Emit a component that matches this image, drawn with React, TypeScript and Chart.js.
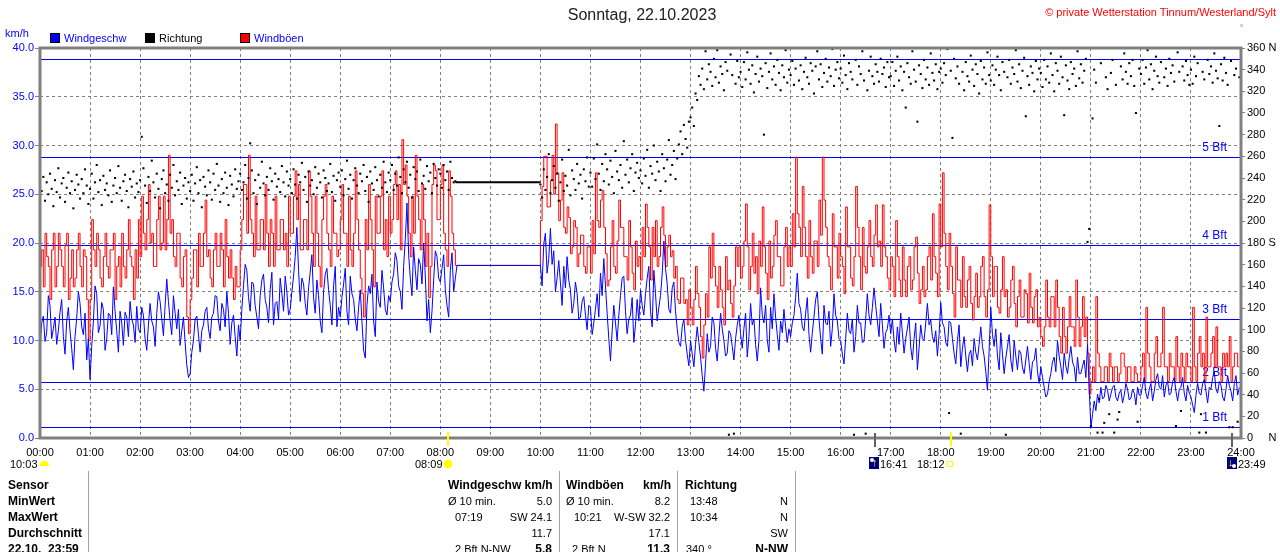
import React, { useEffect, useRef } from "react";
import { Chart, registerables } from "chart.js";

Chart.register(...registerables);

const FONT = "'Liberation Sans', Arial, sans-serif";
const _ = null;

// ---------- data ----------
const SPEED_STEP_MIN = 2; // minutes between wind speed / gust samples
const DIR_STEP_MIN = 2; // minutes between direction samples

const timeLabels = [
  "00:00", "01:00", "02:00", "03:00", "04:00", "05:00", "06:00", "07:00", "08:00",
  "09:00", "10:00", "11:00", "12:00", "13:00", "14:00", "15:00", "16:00", "17:00",
  "18:00", "19:00", "20:00", "21:00", "22:00", "23:00", "24:00",
];

// Windgeschw (km/h), one row per hour (30 samples)
const windSpeed: (number | null)[] = [
  9.0, 11.8, 12.5, 9.9, 10.8, 14.6, 13.6, 10.2, 11.2, 12.4, 9.6, 11.0, 12.9, 14.2, 10.4, 8.6, 12.0, 13.4, 11.0, 9.2, 7.0, 10.4, 12.3, 15.0, 13.8, 11.4, 10.6, 12.8, 8.0, 10.2,
  6.0, 9.4, 12.0, 15.6, 14.8, 10.8, 11.5, 13.9, 13.2, 9.0, 10.2, 12.8, 12.6, 10.6, 15.5, 13.0, 11.0, 8.8, 13.0, 11.8, 9.5, 12.9, 12.4, 10.4, 14.0, 12.2, 11.6, 9.8, 13.5, 11.2,
  10.8, 13.4, 12.6, 10.2, 9.0, 11.6, 13.8, 12.0, 11.4, 9.4, 12.8, 15.0, 14.0, 12.2, 10.5, 13.6, 16.3, 14.0, 12.0, 10.6, 14.6, 12.8, 11.2, 13.2, 9.5, 11.0, 12.4, 9.8, 7.5, 6.2,
  6.6, 8.8, 10.0, 12.2, 12.5, 10.6, 8.8, 11.0, 11.6, 13.0, 13.4, 11.2, 10.2, 12.4, 12.8, 14.6, 14.5, 12.0, 11.0, 13.8, 13.2, 11.4, 15.0, 12.8, 9.6, 11.8, 12.6, 10.4, 8.4, 11.6,
  10.0, 13.2, 15.6, 17.8, 17.2, 14.4, 13.0, 16.0, 15.8, 13.6, 12.4, 11.2, 14.6, 16.2, 16.8, 14.2, 13.4, 11.8, 15.2, 17.0, 11.6, 13.8, 14.0, 12.2, 16.4, 14.8, 13.0, 16.6, 15.0, 12.6,
  13.2, 15.0, 16.6, 18.6, 21.6, 17.2, 14.0, 16.4, 15.8, 13.8, 12.6, 15.4, 17.0, 18.8, 14.4, 12.8, 16.2, 14.6, 12.0, 10.8, 15.0, 16.8, 17.4, 15.2, 13.6, 11.6, 15.6, 17.6, 11.4, 13.4,
  12.4, 14.4, 15.8, 17.4, 13.0, 11.6, 16.6, 14.8, 14.2, 12.2, 11.0, 13.4, 15.2, 12.0, 9.0, 8.2, 13.6, 15.6, 14.8, 16.8, 12.0, 10.4, 16.0, 14.0, 13.4, 17.2, 15.4, 13.2, 12.6, 14.6,
  14.0, 16.0, 16.8, 19.0, 18.2, 15.6, 15.0, 13.2, 17.6, 20.4, 24.1, 18.8, 16.4, 14.6, 19.6, 17.2, 15.2, 18.4, 17.8, 15.8, 20.0, 16.6, 12.0, 14.2, 10.8, 13.0, 16.2, 19.2, 18.6, 16.4,
  16.0, 17.4, 18.8, 15.2, 13.6, 12.4, 17.2, 19.0, 15.0, 16.4, 17.7, _, _, _, _, _, _, _, _, _, _, _, _, _, _, _, _, _, _, _,
  _, _, _, _, _, _, _, _, _, _, _, _, _, _, _, _, _, _, _, _, _, _, _, _, _, _, _, _, _, _,
  17.7, 15.6, 19.9, 21.0, 16.9, 18.4, 21.5, 17.8, 19.2, 15.0, 16.4, 18.2, 15.9, 13.6, 17.6, 15.4, 18.6, 16.2, 15.2, 12.8, 13.8, 16.0, 14.8, 12.2, 12.4, 14.0, 14.5, 12.6, 11.1, 13.6,
  13.4, 10.6, 11.8, 13.2, 14.8, 12.4, 16.9, 14.6, 18.4, 15.6, 12.8, 10.2, 7.9, 11.0, 13.6, 11.8, 10.0, 12.6, 14.6, 16.4, 16.6, 13.0, 10.7, 12.2, 12.6, 14.4, 9.8, 11.6, 14.2, 12.0,
  15.2, 13.6, 12.6, 14.8, 16.4, 17.6, 13.0, 11.4, 17.2, 14.8, 12.0, 13.4, 14.6, 16.8, 20.2, 17.4, 15.8, 13.2, 12.8, 15.4, 16.0, 13.0, 11.2, 9.8, 9.4, 11.4, 12.2, 10.0, 8.6, 7.4,
  10.0, 8.6, 7.3, 9.6, 11.4, 9.8, 8.3, 6.4, 4.8, 7.6, 10.7, 8.8, 9.4, 12.4, 11.8, 9.2, 7.9, 10.4, 12.8, 11.2, 10.0, 8.4, 8.7, 11.0, 10.7, 9.4, 8.0, 10.2, 11.6, 12.6,
  10.7, 9.2, 11.2, 12.8, 8.3, 10.4, 13.8, 11.6, 12.2, 9.6, 7.9, 10.0, 15.4, 12.6, 11.8, 13.6, 10.0, 8.8, 13.4, 11.2, 14.8, 12.4, 10.6, 9.0, 12.0, 10.8, 13.2, 11.4, 9.8, 11.2,
  10.4, 11.8, 12.6, 14.4, 16.9, 13.8, 13.2, 11.4, 11.0, 12.8, 14.4, 10.6, 8.8, 10.8, 12.4, 14.2, 15.0, 12.2, 10.2, 8.6, 13.6, 11.8, 11.6, 13.0, 9.4, 11.2, 14.8, 12.6, 12.0, 10.2,
  10.0, 8.6, 7.6, 10.2, 12.8, 11.0, 10.7, 12.2, 8.8, 10.4, 13.6, 11.8, 11.8, 9.8, 9.9, 12.2, 14.8, 12.6, 11.6, 13.4, 15.4, 13.6, 12.0, 10.4, 13.8, 11.6, 9.2, 10.8, 11.2, 12.6,
  10.7, 12.2, 10.0, 8.8, 11.4, 9.6, 12.8, 10.8, 8.7, 10.2, 11.2, 12.4, 9.3, 8.0, 10.2, 11.8, 7.0, 9.2, 11.6, 10.2, 10.0, 11.8, 13.8, 11.6, 12.1, 10.4, 9.8, 11.0, 8.4, 10.6,
  13.9, 11.8, 11.4, 9.8, 9.4, 12.0, 11.8, 10.2, 8.7, 7.6, 10.0, 11.6, 7.3, 9.2, 10.4, 8.4, 6.8, 8.6, 9.0, 7.4, 10.2, 8.8, 8.0, 9.6, 11.4, 9.4, 8.4, 6.8, 4.9, 9.0,
  13.4, 10.6, 9.4, 11.2, 8.4, 7.0, 10.8, 8.6, 6.6, 8.2, 9.4, 10.6, 8.0, 6.8, 10.0, 8.4, 7.0, 9.0, 8.7, 7.2, 6.6, 8.0, 9.4, 7.6, 6.0, 7.8, 8.0, 9.2, 6.8, 5.6,
  7.3, 6.2, 5.2, 4.2, 4.5, 5.8, 6.6, 7.8, 8.3, 6.8, 10.0, 8.4, 7.3, 6.0, 8.7, 7.4, 6.6, 8.2, 9.4, 7.8, 7.3, 5.8, 8.3, 6.6, 6.6, 7.4, 8.0, 6.2, 9.6, 5.0,
  1.1, 2.4, 3.8, 2.8, 4.5, 3.6, 5.2, 4.0, 4.2, 5.4, 4.9, 3.8, 4.5, 5.2, 5.4, 4.2, 3.8, 4.6, 4.9, 3.6, 4.4, 5.6, 5.0, 3.9, 4.1, 5.0, 4.6, 3.4, 5.2, 4.4,
  4.4, 5.4, 6.2, 4.6, 4.0, 5.0, 5.6, 3.8, 4.8, 6.0, 6.6, 5.2, 5.0, 6.4, 4.2, 5.4, 5.8, 4.4, 4.6, 5.8, 6.2, 4.8, 3.8, 5.0, 5.2, 6.2, 4.6, 3.8, 5.4, 4.6,
  4.2, 3.4, 2.6, 4.4, 5.6, 4.6, 4.4, 5.6, 6.0, 4.8, 3.6, 5.2, 5.0, 6.2, 6.8, 5.0, 4.6, 5.8, 5.4, 4.2, 3.8, 5.0, 6.4, 5.4, 4.8, 3.8, 5.6, 6.4, 4.4, 5.2,
];

// Windböen (km/h), one row per hour (30 samples)
const windGust: (number | null)[] = [
  14.0, 17.6, 19.3, 15.5, 21.0, 18.6, 17.6, 14.2, 19.3, 21.0, 15.5, 17.6, 21.0, 19.3, 17.6, 15.5, 19.8, 21.0, 14.2, 16.4, 19.3, 15.5, 16.4, 19.3, 21.0, 17.6, 15.5, 19.3, 18.6, 14.2,
  10.0, 14.2, 22.4, 19.3, 17.6, 21.0, 19.3, 16.4, 15.5, 18.6, 21.0, 17.6, 16.4, 19.3, 19.3, 21.0, 14.2, 17.6, 18.6, 15.5, 21.0, 17.6, 16.4, 19.3, 22.4, 18.6, 17.6, 14.2, 19.3, 16.4,
  22.4, 18.6, 24.8, 21.0, 19.3, 22.4, 26.0, 20.0, 21.0, 17.6, 17.6, 22.4, 24.8, 19.3, 20.0, 24.8, 19.3, 22.4, 29.0, 21.0, 22.4, 18.6, 17.6, 21.0, 21.0, 16.4, 15.5, 18.6, 19.3, 12.4,
  10.7, 14.2, 16.4, 19.3, 19.3, 15.5, 21.0, 17.6, 17.6, 21.0, 24.4, 18.6, 19.3, 16.4, 15.5, 19.3, 21.0, 17.6, 17.6, 21.0, 19.3, 15.5, 22.4, 18.6, 16.4, 19.3, 16.4, 14.2, 17.6, 15.5,
  15.5, 19.3, 22.4, 26.0, 26.0, 21.0, 29.0, 22.4, 21.0, 18.6, 24.8, 19.3, 19.3, 22.4, 22.4, 19.3, 26.0, 21.0, 17.6, 22.4, 21.0, 17.6, 24.8, 19.3, 19.3, 22.4, 22.4, 19.3, 21.0, 17.6,
  24.8, 21.0, 21.0, 24.8, 27.4, 22.4, 26.0, 19.3, 19.3, 22.4, 22.4, 19.3, 27.4, 24.8, 21.0, 17.6, 24.8, 21.0, 17.6, 15.5, 22.4, 24.8, 26.0, 21.0, 19.3, 17.6, 24.8, 21.0, 21.0, 18.6,
  19.3, 22.4, 26.0, 21.0, 21.0, 17.6, 24.8, 19.3, 17.6, 21.0, 27.4, 22.4, 19.3, 16.4, 14.8, 12.4, 22.4, 19.3, 26.0, 22.4, 19.3, 15.5, 24.8, 21.0, 21.0, 24.8, 27.4, 19.3, 22.4, 18.6,
  24.8, 21.0, 22.4, 26.0, 27.4, 22.4, 26.0, 19.3, 30.6, 26.0, 28.0, 24.8, 21.0, 18.6, 24.8, 21.0, 29.0, 24.8, 22.4, 19.3, 26.0, 22.4, 17.6, 21.0, 14.4, 17.6, 26.0, 28.0, 27.4, 22.4,
  22.4, 26.0, 28.0, 21.0, 19.3, 17.6, 27.4, 24.8, 21.0, 19.3, 17.7, _, _, _, _, _, _, _, _, _, _, _, _, _, _, _, _, _, _, _,
  _, _, _, _, _, _, _, _, _, _, _, _, _, _, _, _, _, _, _, _, _, _, _, _, _, _, _, _, _, _,
  17.7, 22.3, 25.8, 28.9, 28.9, 23.7, 23.7, 26.4, 29.0, 25.0, 32.2, 27.2, 22.3, 24.4, 27.2, 21.6, 21.0, 23.7, 22.6, 18.9, 19.6, 22.3, 21.6, 17.6, 18.9, 20.8, 20.8, 17.6, 16.9, 19.6,
  19.6, 16.9, 22.3, 18.9, 27.2, 22.3, 21.6, 24.4, 25.4, 21.6, 18.9, 15.6, 16.2, 19.6, 22.3, 17.6, 16.9, 20.2, 24.4, 21.6, 21.6, 18.6, 18.6, 16.2, 22.3, 19.6, 16.9, 15.2, 20.2, 17.6,
  18.6, 16.2, 21.6, 18.6, 24.0, 21.6, 19.6, 16.2, 21.6, 18.6, 22.3, 17.6, 18.6, 21.6, 23.7, 20.8, 17.6, 19.6, 20.8, 18.6, 19.2, 16.4, 17.6, 14.2, 13.8, 16.4, 16.4, 13.8, 14.2, 11.6,
  15.2, 13.4, 11.6, 14.2, 17.6, 14.8, 13.4, 10.4, 8.2, 11.6, 14.8, 12.4, 19.6, 16.4, 21.0, 17.6, 15.6, 13.4, 17.6, 15.2, 13.4, 11.6, 18.6, 15.2, 16.2, 13.8, 12.4, 15.6, 19.6, 17.6,
  19.6, 16.4, 17.6, 20.2, 24.0, 19.6, 15.2, 17.6, 21.0, 16.9, 18.6, 14.8, 20.2, 17.6, 23.7, 19.6, 16.9, 14.2, 20.2, 16.4, 17.6, 20.8, 22.3, 18.6, 18.6, 15.6, 15.6, 19.6, 21.6, 17.6,
  19.6, 17.6, 23.0, 19.6, 28.8, 23.0, 21.6, 18.6, 25.8, 21.6, 18.6, 16.4, 22.3, 18.6, 16.9, 20.2, 20.2, 17.6, 24.4, 20.8, 28.8, 24.4, 21.6, 18.6, 17.6, 15.2, 23.0, 19.6, 19.6, 16.4,
  21.0, 18.6, 17.6, 14.8, 23.7, 19.6, 19.6, 16.4, 15.6, 18.6, 25.8, 21.6, 18.6, 15.2, 21.6, 17.6, 16.9, 19.6, 22.3, 18.6, 17.6, 20.8, 23.9, 19.6, 20.2, 17.6, 23.9, 19.6, 18.6, 16.4,
  15.2, 18.6, 17.6, 14.5, 22.3, 18.6, 16.2, 14.5, 19.6, 16.2, 14.5, 17.6, 18.6, 15.2, 16.2, 19.6, 20.6, 16.9, 13.8, 15.2, 17.6, 14.5, 15.2, 18.6, 19.6, 16.2, 23.0, 18.6, 16.9, 14.5,
  24.0, 19.6, 27.2, 21.0, 17.6, 15.2, 21.0, 17.6, 14.8, 12.4, 19.6, 16.2, 16.2, 13.4, 18.6, 14.5, 13.4, 16.2, 17.6, 13.8, 12.1, 14.5, 16.9, 13.4, 14.5, 17.6, 18.6, 14.5, 12.4, 15.2,
  23.9, 18.6, 14.5, 17.6, 17.6, 13.4, 12.8, 15.2, 18.6, 14.5, 15.2, 12.4, 13.4, 16.2, 17.6, 13.8, 11.4, 14.5, 16.2, 12.4, 12.4, 15.2, 14.8, 11.8, 16.9, 13.4, 11.8, 14.5, 15.2, 11.4,
  12.4, 10.4, 9.4, 11.4, 16.2, 12.4, 11.4, 14.5, 14.5, 11.4, 16.2, 13.4, 10.4, 8.7, 13.4, 10.4, 8.7, 11.4, 14.5, 11.4, 11.4, 9.4, 16.2, 12.4, 9.4, 11.4, 14.5, 10.4, 12.4, 8.7,
  4.5, 5.8, 7.3, 5.8, 14.5, 8.7, 7.3, 5.8, 5.8, 7.3, 7.3, 5.8, 8.7, 7.3, 5.8, 7.3, 7.3, 5.8, 6.6, 8.7, 8.7, 7.3, 5.8, 7.3, 7.3, 5.8, 5.8, 7.3, 6.6, 5.8,
  5.8, 7.3, 8.7, 5.8, 13.4, 8.7, 7.3, 5.8, 5.8, 8.7, 10.4, 7.3, 7.3, 8.7, 13.4, 7.3, 7.3, 5.8, 8.7, 7.3, 7.3, 5.8, 10.4, 7.3, 5.8, 8.7, 7.3, 5.8, 8.7, 7.3,
  7.3, 5.8, 13.4, 7.3, 5.8, 8.7, 10.4, 7.3, 8.7, 5.8, 12.4, 7.3, 7.3, 8.7, 10.4, 7.3, 11.4, 7.3, 7.3, 5.8, 8.7, 7.3, 8.7, 7.3, 10.4, 5.8, 7.3, 8.7, 8.7, 7.3,
];

// Richtung (degrees), one row per hour (30 samples)
const windDir: (number | null)[] = [
  232, 228, 241, 219, 236, 225, 244, 230, 214, 238, 227, 249, 222, 235, 240, 218, 231, 245, 226, 237, 212, 229, 243, 234, 221, 239, 226, 248, 233, 216,
  230, 244, 221, 236, 252, 227, 238, 215, 242, 229, 235, 224, 247, 218, 233, 240, 226, 251, 231, 219, 237, 243, 228, 213, 239, 232, 246, 222, 235, 227,
  238, 278, 249, 233, 217, 241, 228, 256, 236, 222, 244, 230, 212, 239, 247, 226, 234, 219, 243, 231, 252, 224, 237, 229, 245, 216, 233, 240, 221, 236,
  228, 243, 219, 235, 250, 226, 238, 213, 241, 232, 224, 247, 236, 220, 244, 229, 253, 233, 218, 239, 226, 245, 231, 215, 242, 234, 223, 248, 230, 237,
  244, 229, 236, 252, 221, 240, 272, 247, 226, 238, 216, 243, 231, 255, 235, 224, 241, 229, 249, 237, 220, 244, 232, 239, 227, 251, 236, 223, 246, 233,
  239, 226, 248, 234, 221, 243, 236, 254, 229, 241, 218, 246, 233, 238, 225, 250, 231, 244, 236, 222, 247, 240, 228, 235, 253, 227, 242, 219, 238, 245,
  232, 247, 224, 239, 256, 230, 243, 221, 238, 249, 233, 226, 244, 237, 252, 228, 241, 218, 246, 235, 229, 250, 238, 223, 243, 231, 255, 236, 227, 245,
  238, 252, 229, 244, 233, 259, 241, 226, 248, 236, 255, 231, 243, 222, 250, 239, 246, 228, 257, 235, 242, 230, 251, 237, 245, 226, 253, 240, 233, 248,
  244, 231, 252, 238, 246, 229, 255, 240, 236, 237, _, _, _, _, _, _, _, _, _, _, _, _, _, _, _, _, _, _, _, _,
  _, _, _, _, _, _, _, _, _, _, _, _, _, _, _, _, _, _, _, _, _, _, _, _, _, _, _, _, _, _,
  234, 222, 248, 229, 241, 262, 226, 238, 251, 231, 244, 219, 236, 257, 228, 242, 233, 266, 224, 247, 239, 229, 253, 235, 243, 221, 248, 237, 259, 232,
  245, 232, 258, 239, 271, 244, 229, 253, 237, 262, 248, 234, 256, 241, 226, 265, 246, 238, 252, 231, 274, 243, 257, 236, 249, 262, 228, 245, 254, 240,
  247, 235, 258, 242, 266, 231, 251, 244, 270, 238, 255, 246, 228, 262, 249, 237, 257, 275, 243, 252, 265, 239, 258, 271, 283, 262, 289, 276, 268, 292,
  296, 305, 288, 318, 312, 334, 326, 341, 322, 357, 331, 345, 338, 325, 350, 333, 358, 328, 343, 336, 321, 347, 339, 3, 354, 335, 4, 327, 348, 333,
  338, 324, 347, 331, 356, 340, 327, 344, 319, 336, 352, 329, 341, 334, 280, 346, 323, 338, 355, 331, 343, 326, 349, 337, 321, 344, 333, 358, 328, 340,
  335, 348, 326, 341, 360, 330, 344, 322, 338, 351, 333, 327, 346, 339, 318, 343, 357, 331, 345, 324, 337, 350, 329, 342, 334, 359, 325, 340, 347, 332,
  341, 328, 353, 335, 322, 346, 338, 331, 3, 349, 326, 343, 336, 357, 330, 4, 321, 339, 352, 334, 327, 345, 338, 329, 350, 336, 342, 324, 347, 333,
  334, 347, 325, 339, 352, 330, 343, 321, 338, 305, 346, 333, 327, 357, 340, 329, 292, 344, 336, 323, 349, 331, 342, 326, 355, 337, 330, 345, 322, 338,
  341, 328, 346, 335, 359, 23, 339, 277, 350, 332, 343, 327, 4, 338, 321, 347, 334, 329, 353, 340, 325, 345, 336, 318, 348, 331, 342, 327, 356, 335,
  330, 344, 326, 340, 352, 335, 321, 347, 338, 3, 333, 349, 327, 342, 336, 358, 329, 345, 323, 339, 351, 297, 334, 326, 343, 337, 320, 348, 331, 341,
  337, 324, 349, 331, 343, 328, 355, 335, 320, 346, 339, 327, 352, 333, 298, 344, 330, 322, 347, 336, 341, 325, 357, 332, 345, 328, 339, 350, 181, 193,
  11, 295, 340, 328, 5, 36, 346, 5, 14, 333, 322, 22, 337, 349, 5, 326, 17, 24, 343, 331, 355, 338, 327, 346, 334, 349, 325, 300, 15, 341,
  336, 349, 327, 342, 358, 331, 345, 322, 339, 352, 334, 328, 347, 360, 333, 341, 325, 350, 337, 344, 329, 11, 356, 338, 25, 343, 330, 348, 335, 326,
  340, 327, 352, 334, 346, 5, 22, 338, 331, 5, 349, 336, 343, 328, 355, 339, 332, 288, 345, 330, 351, 337, 326, 10, 348, 10, 335, 341, 15, 333,
];

// constant direction held through the data gap (minutes, degrees)
const dirGapTimes = [498, 600];
const dirGapValues = [236, 236];

// Beaufort thresholds (km/h)
const bftLevels = [1.08, 5.76, 12.24, 19.8, 28.8, 38.88];
const bftLabels = ["1 Bft", "2 Bft", "3 Bft", "4 Bft", "5 Bft", ""];

// sun / moon events (minutes of day)
const sunEvents = [489, 1092]; // 08:09 sunrise, 18:12 sunset
const moonEvents = [1001, 1429]; // 16:41, 23:49

// ---------- plugins ----------
const bftPlugin = {
  id: "bftLines",
  beforeDatasetsDraw(chart: any) {
    const { ctx, chartArea: a, scales } = chart;
    const y = scales.y;
    ctx.save();
    ctx.fillStyle = "#0000ff";
    ctx.font = `12px ${FONT}`;
    ctx.textAlign = "right";
    ctx.textBaseline = "bottom";
    bftLevels.forEach((v, i) => {
      const py = Math.round(y.getPixelForValue(v));
      ctx.fillRect(a.left, py, a.right - a.left, 1);
      if (bftLabels[i]) ctx.fillText(bftLabels[i], a.right - 14, py - 3);
    });
    ctx.restore();
  },
};

const framePlugin = {
  id: "frame",
  afterDatasetsDraw(chart: any) {
    const { ctx, chartArea: a } = chart;
    ctx.save();
    ctx.strokeStyle = "#808080";
    ctx.lineWidth = 3;
    ctx.strokeRect(a.left, a.top, a.right - a.left, a.bottom - a.top);
    ctx.restore();
  },
  afterDraw(chart: any) {
    const { ctx, chartArea: a, scales } = chart;
    const x = scales.x;
    ctx.save();
    ctx.lineWidth = 2;
    ctx.strokeStyle = "#ffff00";
    sunEvents.forEach((t) => {
      const px = Math.round(x.getPixelForValue(t));
      ctx.beginPath();
      ctx.moveTo(px, a.bottom - 6);
      ctx.lineTo(px, a.bottom + 8);
      ctx.stroke();
    });
    ctx.strokeStyle = "#606060";
    moonEvents.forEach((t) => {
      const px = Math.round(x.getPixelForValue(t));
      ctx.beginPath();
      ctx.moveTo(px, a.bottom - 5);
      ctx.lineTo(px, a.bottom + 9);
      ctx.stroke();
    });
    ctx.restore();
  },
};

// ---------- small html helpers ----------
type TxtProps = {
  x: number;
  y: number;
  text: string;
  bold?: boolean;
  size?: number;
  color?: string;
  right?: boolean;
};

function Txt({ x, y, text, bold, size = 11, color = "#000", right }: TxtProps) {
  const style: React.CSSProperties = {
    position: "absolute",
    top: y - 8,
    height: 16,
    lineHeight: "16px",
    fontSize: size,
    fontWeight: bold ? "bold" : "normal",
    color,
    whiteSpace: "pre",
  };
  if (right) style.right = 1280 - x;
  else style.left = x;
  return <div style={style}>{text}</div>;
}

function Box({ x, y, w, h, style }: { x: number; y: number; w: number; h: number; style?: React.CSSProperties }) {
  return <div style={{ position: "absolute", left: x, top: y, width: w, height: h, boxSizing: "border-box", ...style }} />;
}

function MoonIcon({ x, y, up }: { x: number; y: number; up: boolean }) {
  return (
    <div style={{ position: "absolute", left: x, top: y, width: 10, height: 12, background: "#000080", overflow: "hidden" }}>
      <div style={{ position: "absolute", left: up ? 1 : 5, top: up ? 1 : 7, width: 4, height: 4, borderRadius: 2, background: "#ffffff" }} />
      <div style={{ position: "absolute", left: up ? 3 : 1, top: -2, fontSize: 11, lineHeight: "14px", color: "#ffff00", fontWeight: "bold" }}>
        {up ? "↑" : "↓"}
      </div>
    </div>
  );
}

export default function App() {
  const canvasRef = useRef<HTMLCanvasElement>(null);

  useEffect(() => {
    document.body.style.margin = "0";
    Chart.defaults.font.family = FONT;
    Chart.defaults.font.size = 11;

    const speedPoints = windSpeed.map((v, i) => ({ x: i * SPEED_STEP_MIN, y: v }));
    const gustPoints = windGust.map((v, i) => ({ x: i * SPEED_STEP_MIN, y: v }));
    const dirPoints = windDir
      .map((v, i) => ({ x: i * DIR_STEP_MIN, y: v }))
      .filter((p) => p.y !== null);
    const gapPoints = dirGapTimes.map((t, i) => ({ x: t, y: dirGapValues[i] }));

    const chart = new Chart(canvasRef.current as HTMLCanvasElement, {
      type: "line",
      data: {
        datasets: [
          {
            label: "Richtung",
            data: dirPoints as any,
            yAxisID: "yDir",
            showLine: false,
            pointStyle: "rect",
            pointRadius: 1.45,
            pointBackgroundColor: "#000000",
            pointBorderWidth: 0,
            order: 0,
          },
          {
            label: "Richtung (gap)",
            data: gapPoints as any,
            yAxisID: "yDir",
            borderColor: "#000000",
            borderWidth: 2,
            pointRadius: 0,
            order: 1,
          },
          {
            label: "Windgeschw",
            data: speedPoints as any,
            yAxisID: "y",
            borderColor: "#0000ff",
            borderWidth: 1,
            pointRadius: 0,
            spanGaps: true,
            tension: 0,
            order: 2,
          },
          {
            label: "Windböen",
            data: gustPoints as any,
            yAxisID: "y",
            borderColor: "#ff0000",
            borderWidth: 1,
            pointRadius: 0,
            spanGaps: true,
            stepped: "after",
            order: 3,
          },
        ],
      },
      options: {
        responsive: false,
        animation: false,
        events: [],
        layout: { padding: { top: 48, left: 0, right: 0, bottom: 0 } },
        plugins: {
          legend: { display: false },
          tooltip: { enabled: false },
          title: { display: false },
        },
        scales: {
          x: {
            type: "linear",
            position: "bottom",
            min: 0,
            max: 1440,
            ticks: {
              stepSize: 60,
              autoSkip: false,
              maxRotation: 0,
              color: "#000000",
              padding: 8,
              font: { size: 11 },
              callback: (v: any) => timeLabels[Math.round(Number(v) / 60)] ?? "",
            },
            grid: { color: "#808080", lineWidth: 1, drawTicks: false },
            border: { display: false, dash: [3, 3] },
            afterFit: (s: any) => {
              s.height = 114;
            },
          },
          y: {
            type: "linear",
            position: "left",
            min: 0,
            max: 40,
            ticks: {
              stepSize: 5,
              color: "#0000ff",
              padding: 1,
              font: { size: 11 },
              callback: (v: any) => Number(v).toFixed(1),
            },
            grid: { color: "#808080", lineWidth: 1, tickLength: 5, tickColor: "#808080" },
            border: { display: false, dash: [3, 3] },
            afterFit: (s: any) => {
              s.width = 40;
            },
          },
          yDir: {
            type: "linear",
            position: "right",
            min: 0,
            max: 360,
            ticks: {
              stepSize: 20,
              color: "#000000",
              padding: 2,
              font: { size: 11 },
              callback: (v: any) => {
                const n = Number(v);
                if (n === 360) return "360 N";
                if (n === 180) return "180 S";
                if (n === 0) return "0     N";
                return String(n);
              },
            },
            grid: { drawOnChartArea: false, tickLength: 4, color: "#808080" },
            border: { display: false },
            afterFit: (s: any) => {
              s.width = 39;
            },
          },
        },
      } as any,
      plugins: [bftPlugin, framePlugin],
    });

    return () => chart.destroy();
  }, []);

  const sep: React.CSSProperties = { background: "#a0a0a0" };

  return (
    <div
      style={{
        position: "relative",
        width: 1280,
        height: 552,
        overflow: "hidden",
        background: "#ffffff",
        fontFamily: FONT,
      }}
    >
      <canvas ref={canvasRef} width={1280} height={552} style={{ position: "absolute", left: 0, top: 0 }} />

      {/* header */}
      <div
        style={{
          position: "absolute",
          left: 0,
          width: 1284,
          top: 5,
          textAlign: "center",
          fontSize: 16,
          lineHeight: "20px",
          color: "#202020",
        }}
      >
        Sonntag, 22.10.2023
      </div>
      <Txt x={1276} y={12} right size={11} color="#ff0000" text="© private Wetterstation Tinnum/Westerland/Sylt" />
      <Txt x={1240} y={28} size={8} color="#606060" text="°" />
      <Txt x={5} y={33} size={11} color="#0000ff" text="km/h" />

      {/* legend */}
      <Box x={50} y={33} w={10} h={10} style={{ background: "#0000ff", border: "1px solid #000" }} />
      <Txt x={64} y={38} color="#0000ff" text="Windgeschw" />
      <Box x={145} y={33} w={10} h={10} style={{ background: "#000000" }} />
      <Txt x={159} y={38} color="#000000" text="Richtung" />
      <Box x={240} y={33} w={10} h={10} style={{ background: "#ff0000", border: "1px solid #000" }} />
      <Txt x={254} y={38} color="#0000ff" text="Windböen" />

      {/* sun / moon row */}
      <Txt x={10} y={464} text="10:03" />
      <Box x={40} y={461} w={9} h={5} style={{ background: "#ffff00", borderRadius: "5px 5px 0 0" }} />
      <Txt x={415} y={464} text="08:09" />
      <Box x={444} y={460} w={8} h={8} style={{ background: "#ffff00", borderRadius: 4, boxShadow: "0 0 2px 1px #ffff90" }} />
      <MoonIcon x={869} y={457} up />
      <Txt x={880} y={464} text="16:41" />
      <Txt x={917} y={464} text="18:12" />
      <Box x={947} y={461} w={6} h={6} style={{ border: "1px solid #ffff00" }} />
      <MoonIcon x={1227} y={457} up={false} />
      <Txt x={1238} y={464} text="23:49" />

      {/* table separators */}
      <Box x={88} y={471} w={1} h={81} style={sep} />
      <Box x={559} y={471} w={1} h={81} style={sep} />
      <Box x={677} y={471} w={1} h={81} style={sep} />
      <Box x={795} y={471} w={1} h={81} style={sep} />

      {/* row labels */}
      <Txt x={8} y={485} bold size={12} text="Sensor" />
      <Txt x={8} y={501} bold size={12} text="MinWert" />
      <Txt x={8} y={517} bold size={12} text="MaxWert" />
      <Txt x={8} y={533} bold size={12} text="Durchschnitt" />
      <Txt x={8} y={549} bold size={12} text="22.10.  23:59" />

      {/* Windgeschw column */}
      <Txt x={448} y={485} bold size={12} text="Windgeschw km/h" />
      <Txt x={448} y={501} text="Ø 10 min." />
      <Txt x={552} y={501} right text="5.0" />
      <Txt x={455} y={517} text="07:19" />
      <Txt x={552} y={517} right text="SW 24.1" />
      <Txt x={552} y={533} right text="11.7" />
      <Txt x={455} y={549} text="2 Bft N-NW" />
      <Txt x={552} y={549} right bold size={12} text="5.8" />

      {/* Windböen column */}
      <Txt x={566} y={485} bold size={12} text="Windböen" />
      <Txt x={671} y={485} right bold size={12} text="km/h" />
      <Txt x={566} y={501} text="Ø 10 min." />
      <Txt x={670} y={501} right text="8.2" />
      <Txt x={574} y={517} text="10:21" />
      <Txt x={670} y={517} right text="W-SW 32.2" />
      <Txt x={670} y={533} right text="17.1" />
      <Txt x={572} y={549} text="2 Bft N" />
      <Txt x={670} y={549} right bold size={12} text="11.3" />

      {/* Richtung column */}
      <Txt x={685} y={485} bold size={12} text="Richtung" />
      <Txt x={690} y={501} text="13:48" />
      <Txt x={788} y={501} right text="N" />
      <Txt x={690} y={517} text="10:34" />
      <Txt x={788} y={517} right text="N" />
      <Txt x={788} y={533} right text="SW" />
      <Txt x={686} y={549} text="340 °" />
      <Txt x={788} y={549} right bold size={12} text="N-NW" />
    </div>
  );
}
